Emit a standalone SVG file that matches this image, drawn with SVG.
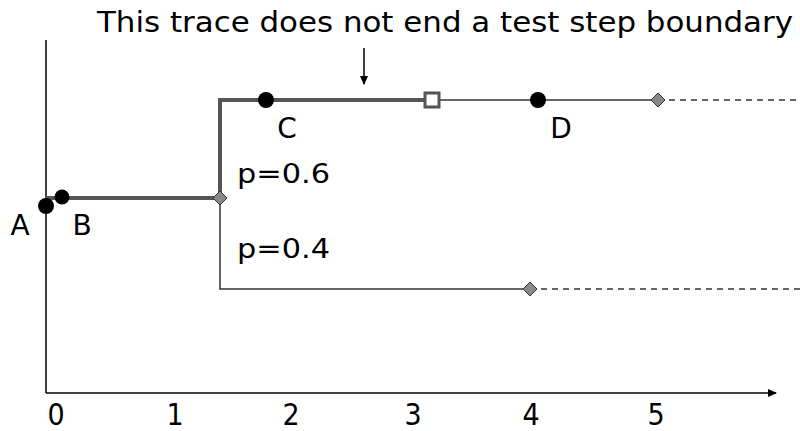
<svg xmlns="http://www.w3.org/2000/svg" width="800" height="431" viewBox="0 0 800 431">
<style>
text{font-family:"DejaVu Sans","Liberation Sans",sans-serif;font-size:28px;fill:#000}
.tick{font-family:"DejaVu Sans Condensed","DejaVu Sans",sans-serif;font-size:30px}
.p{font-size:26px}
.thick{stroke:#555;stroke-width:4;fill:none}
.thin{stroke:#333;stroke-width:1.5;fill:none}
.dash{stroke:#333;stroke-width:1.5;stroke-dasharray:6,5;fill:none}
.axis{stroke:#000;stroke-width:1.5;fill:none}
.dot{fill:#000}
.dia{fill:#888;stroke:#333;stroke-width:1}
</style>
<defs>
<marker id="ah" markerWidth="10" markerHeight="10" refX="8" refY="5" orient="auto" markerUnits="userSpaceOnUse">
<path d="M0,1 L9,5 L0,9 z" fill="#000"/>
</marker>
</defs>
<rect width="800" height="431" fill="#fff"/>
<g id="axes">
<line class="axis" x1="46" y1="40" x2="46" y2="393"/>
<line class="axis" x1="46" y1="393" x2="776" y2="393" marker-end="url(#ah)"/>
<text class="tick" x="56" y="425" text-anchor="middle">0</text>
<text class="tick" x="175" y="425" text-anchor="middle">1</text>
<text class="tick" x="291" y="425" text-anchor="middle">2</text>
<text class="tick" x="413" y="425" text-anchor="middle">3</text>
<text class="tick" x="531" y="425" text-anchor="middle">4</text>
<text class="tick" x="656" y="425" text-anchor="middle">5</text>
</g>
<g id="connectors">
<path class="thick" d="M46,198 H220 V100 H432"/>
<path class="thin" d="M220,198 V289 H530"/>
<path class="dash" d="M530,289 H800"/>
<path class="thin" d="M432,100 H658"/>
<path class="dash" d="M658,100 H800"/>
<line stroke="#000" stroke-width="1.5" x1="364" y1="48" x2="364" y2="84" marker-end="url(#ah)"/>
</g>
<g id="title"><text x="97" y="32" font-size="29" textLength="696" lengthAdjust="spacingAndGlyphs">This trace does not end a test step boundary</text></g>
<g id="nodeA"><circle class="dot" cx="46" cy="206" r="8"/><text x="20" y="235" text-anchor="middle">A</text></g>
<g id="nodeB"><circle class="dot" cx="62" cy="197" r="7.5"/><text x="82" y="235" text-anchor="middle">B</text></g>
<g id="branch1"><path class="dia" d="M220,191 L227,198 L220,205 L213,198 z"/></g>
<g id="nodeC"><circle class="dot" cx="266" cy="100" r="8"/><text x="287" y="138" text-anchor="middle">C</text></g>
<g id="boundary"><rect x="425" y="93" width="14" height="14" fill="#fff" stroke="#555" stroke-width="3"/></g>
<g id="nodeD"><circle class="dot" cx="538" cy="100" r="8"/><text x="561" y="138" text-anchor="middle">D</text></g>
<g id="branch2"><path class="dia" d="M658,93 L665,100 L658,107 L651,100 z"/></g>
<g id="branch3"><path class="dia" d="M530,282 L537,289 L530,296 L523,289 z"/></g>
<g id="p06"><text class="p" x="237" y="183" textLength="93" lengthAdjust="spacingAndGlyphs">p=0.6</text></g>
<g id="p04"><text class="p" x="237" y="258" textLength="93" lengthAdjust="spacingAndGlyphs">p=0.4</text></g>
</svg>
